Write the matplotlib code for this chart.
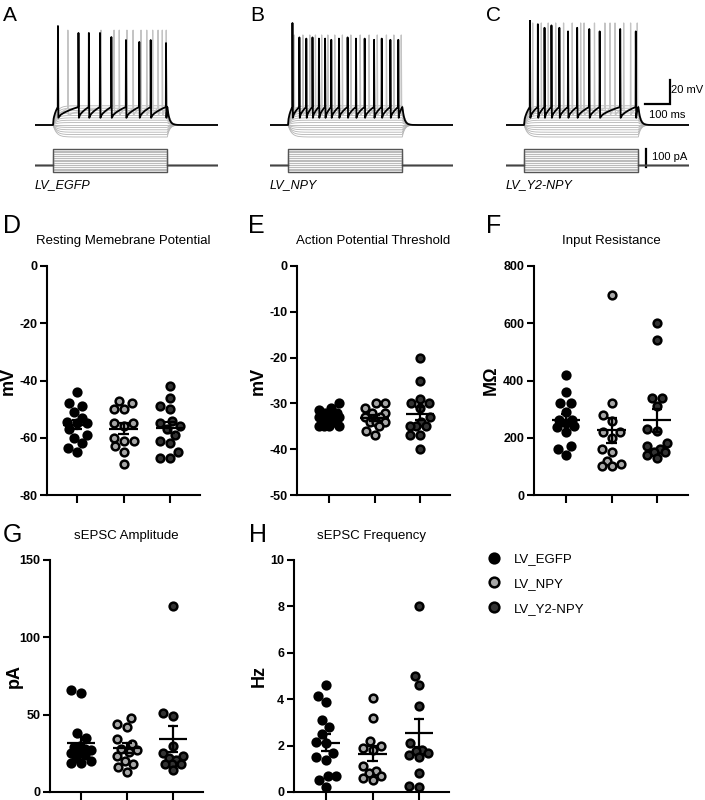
import numpy as np
import matplotlib
matplotlib.use("Agg")
import matplotlib.pyplot as plt
from matplotlib.lines import Line2D

plt.rcParams['font.family'] = ['Liberation Sans', 'DejaVu Sans']
plt.rcParams['axes.unicode_minus'] = False

# ---------------- data ----------------
groups = ['LV_EGFP', 'LV_NPY', 'LV_Y2-NPY']

# top traces: spike times (ms) and peaks (mV)
egfp_black_spikes = [92, 175, 217, 262, 308, 367, 421, 467, 529]
egfp_black_peaks = [17.5, 11.7, 11.7, 11.7, 8.3, 5.8, 4.2, 5.8, 3.3]
egfp_gray_spikes = [132, 266, 319, 340, 371, 396, 428, 451, 475, 497, 514, 530]

npy_black_spikes = [90, 118, 146, 171, 197, 222, 247, 278, 313, 347, 382, 420, 451, 486, 518]
npy_black_peaks = [20, 8, 7, 8, 7, 7, 6, 7, 8, 7, 7, 6, 7, 6, 6]
npy_gray_spikes = [97, 132, 160, 183, 208, 233, 261, 292, 326, 364, 400, 433, 470, 500, 530]

y2_black_spikes = [96, 128, 155, 183, 215, 250, 287, 336, 378, 461, 524]
y2_black_peaks = [22, 19, 16, 18, 16, 13, 16, 15, 13, 15, 13]
y2_gray_spikes = [107, 142, 170, 200, 232, 267, 301, 315, 357, 399, 420, 440, 475, 503, 530]

subthreshold_levels = [-10, -8, -6, -4, -2, 0, 2, 4, 6, 8, 10, 12, 14, 16]   # mV
current_steps = [-40, -30, -20, -10, 0, 10, 20, 30, 40, 50, 60, 70, 80, 90]  # pA

# D Resting membrane potential (mV)
rmp_egfp = [-44, -48, -49, -51, -53, -54.5, -55, -55, -57, -59, -60, -62, -63.5, -65]
rmp_npy = [-47, -48, -50, -50, -55, -55, -56, -60, -61, -61, -63, -65, -69]
rmp_y2 = [-42, -46, -49, -50, -54, -55, -56, -57, -59, -61, -62, -65, -67, -67]

# E Action potential threshold (mV)
apt_egfp = [-30, -31, -31.5, -32, -32, -32.5, -33, -33, -33.5, -34, -34, -35, -35, -35, -35]
apt_npy = [-30, -30, -31, -32, -32, -33, -33, -34, -34, -34, -35, -36, -37]
apt_y2 = [-20, -25, -29, -30, -30, -31, -33, -34, -35, -35, -35, -37, -37, -40]

# F Input resistance (MOhm)
rin_egfp = [420, 360, 320, 320, 290, 262, 262, 250, 240, 238, 220, 170, 160, 140]
rin_npy = [700, 320, 280, 260, 220, 220, 200, 160, 150, 120, 110, 100, 100]
rin_y2 = [600, 540, 340, 340, 310, 230, 225, 180, 170, 160, 150, 150, 140, 130]

# G sEPSC amplitude (pA)
amp_egfp = [66, 64, 38, 35, 30, 29, 28, 27, 26, 25, 24, 22, 20, 19, 19]
amp_npy = [48, 44, 42, 34, 31, 28, 27, 26, 23, 20, 18, 16, 13]
amp_y2 = [120, 51, 49, 30, 25, 23, 22, 21, 18, 18, 18, 14]

# H sEPSC frequency (Hz)
freq_egfp = [4.6, 4.15, 3.9, 3.1, 2.8, 2.5, 2.1, 2.15, 1.7, 1.5, 1.4, 0.7, 0.7, 0.5, 0.2]
freq_npy = [4.05, 3.2, 2.2, 2.0, 1.9, 1.8, 1.1, 0.9, 0.8, 0.7, 0.5, 0.6]
freq_y2 = [8.0, 5.0, 4.6, 3.7, 2.1, 1.8, 1.75, 1.7, 1.6, 1.5, 0.8, 0.25, 0.2]

# ---------------- figure ----------------
W, H = 705, 800
fig = plt.figure(figsize=(W / 100, H / 100), dpi=100)


def px_axes(l, t, r, b):
    return fig.add_axes([l / W, 1 - b / H, (r - l) / W, (b - t) / H])


# ---------- traces ----------
T_END, ON, OFF, BASE = 740, 73, 535, -65.0


def spiking_trace(spikes, peaks, thr, ahp):
    ts, vs = [0, ON], [BASE, BASE]
    t0 = spikes[0]
    tt = np.linspace(ON, t0, 10)
    ts += list(tt)
    vs += list(BASE + (thr - BASE) * np.sqrt((tt - ON) / (t0 - ON)))
    for k, s in enumerate(spikes):
        ts += [s + 0.8, s + 2.5]
        vs += [peaks[k], ahp]
        nxt = spikes[k + 1] if k + 1 < len(spikes) else OFF
        tt = np.linspace(s + 2.5, nxt, 10)
        ts += list(tt)
        vs += list(ahp + (thr - ahp) * ((tt - tt[0]) / (nxt - tt[0])) ** 0.6)
    tt = np.linspace(OFF, T_END, 40)
    ts += list(tt)
    vs += list(BASE + (thr - BASE) * np.exp(-(tt - OFF) / 8))
    return np.array(ts), np.array(vs)


def sub_trace(level):
    t = np.linspace(0, T_END, 600)
    v = np.full_like(t, BASE)
    m = (t >= ON) & (t < OFF)
    v[m] = BASE + level * (1 - np.exp(-(t[m] - ON) / 14))
    reached = level * (1 - np.exp(-(OFF - ON) / 14))
    m2 = t >= OFF
    v[m2] = BASE + reached * np.exp(-(t[m2] - OFF) / 10)
    return t, v


trace_specs = [
    (35, 3, 'A', 'LV_EGFP', egfp_black_spikes, egfp_black_peaks, egfp_gray_spikes, 14),
    (270, 250, 'B', 'LV_NPY', npy_black_spikes, npy_black_peaks, npy_gray_spikes, 10),
    (506, 486, 'C', 'LV_Y2-NPY', y2_black_spikes, y2_black_peaks, y2_gray_spikes, 20),
]
for left, lx, letter, label, bs, bp, gs, gpk in trace_specs:
    axv = px_axes(left, 20, left + 183, 140)
    axv.set_xlim(0, T_END)
    axv.set_ylim(BASE - 15 / 1.2, BASE + 105 / 1.2)
    axv.axis('off')
    for lv in subthreshold_levels:
        t, v = sub_trace(lv)
        axv.plot(t, v, color='#b4b4b4', lw=0.6)
    t, v = spiking_trace(gs, [gpk] * len(gs), -51, -57)
    axv.plot(t, v, color='#c4c4c4', lw=0.9)
    t, v = spiking_trace(bs, bp, -50, -59)
    axv.plot(t, v, color='black', lw=1.3)

    axi = px_axes(left, 140, left + 183, 180)
    axi.set_xlim(0, T_END)
    axi.set_ylim(-15 / 0.18, 25 / 0.18)
    axi.axis('off')
    for k, c in enumerate(current_steps):
        extreme = k in (0, len(current_steps) - 1)
        axi.plot([0, ON, ON, OFF, OFF, T_END], [0, 0, c, c, 0, 0],
                 color='#555555' if extreme else '#bbbbbb',
                 lw=1.0 if extreme else 0.8, zorder=3 if extreme else 2)
    axi.plot([0, ON], [0, 0], color='#444444', lw=1.0, zorder=4)
    axi.plot([OFF, T_END], [0, 0], color='#444444', lw=1.0, zorder=4)

    fig.text(left / W, 1 - 185 / H, label, style='italic', fontsize=9, va='center', ha='left')
    fig.text(lx / W, 1 - 21 / H, letter, fontsize=15, va='baseline', ha='left')

    if letter == 'C':
        axv.plot([564, 664, 664], [-47.5, -47.5, -27.5], color='black', lw=1.6,
                 clip_on=False, solid_joinstyle='miter')
        axv.text(668, -35.5, '20 mV', fontsize=8, va='center', ha='left')
        axv.text(580, -56.5, '100 ms', fontsize=8, va='center', ha='left')
        axi.plot([567, 567], [-10, 90], color='black', lw=1.6, clip_on=False)
        axi.text(590, 45, '100 pA', fontsize=8, va='center', ha='left')

# ---------- scatter panels ----------
face = ['#000000', '#a6a6a6', '#333333']


def swarm(vals, ypx, diam, maxw):
    vals = np.asarray(vals, float)
    order = np.argsort(vals)
    placed = []
    offs = np.zeros(len(vals))
    for i in order:
        y = vals[i] * ypx
        cands = [0.0]
        for (px, py) in placed:
            dy = y - py
            if abs(dy) < diam:
                dx = np.sqrt(diam ** 2 - dy ** 2)
                cands += [px + dx, px - dx]
        cands = sorted(cands, key=lambda c: (abs(c), c))
        best = None
        for c in cands:
            if abs(c) > maxw + 1e-9:
                continue
            if all((c - px) ** 2 + (y - py) ** 2 >= diam ** 2 - 1e-6 for px, py in placed):
                best = c
                break
        if best is None:
            grid = np.linspace(-maxw, maxw, 41)
            scores = [min(np.hypot(g - px, y - py) for px, py in placed) for g in grid]
            best = grid[int(np.argmax(scores))]
        offs[i] = best
        placed.append((best, y))
    return offs


panels = [
    ('D', 'Resting Memebrane Potential', 'mV', (47, 266, 200, 495), (77, 170), (-80, 0), 20,
     [rmp_egfp, rmp_npy, rmp_y2], 17),
    ('E', 'Action Potential Threshold', 'mV', (297, 266, 450, 495), (329, 420), (-50, 0), 10,
     [apt_egfp, apt_npy, apt_y2], 267),
    ('F', 'Input Resistance', 'MΩ', (534, 266, 688, 495), (566, 657), (0, 800), 200,
     [rin_egfp, rin_npy, rin_y2], 500),
    ('G', 'sEPSC Amplitude', 'pA', (50, 560, 203, 792), (81, 173), (0, 150), 50,
     [amp_egfp, amp_npy, amp_y2], 23),
    ('H', 'sEPSC Frequency', 'Hz', (294, 560, 449, 792), (326, 419), (0, 10), 2,
     [freq_egfp, freq_npy, freq_y2], 268),
]

letter_x = {'D': 3, 'E': 248, 'F': 486, 'G': 3, 'H': 249}

for letter, title, ylab, (l, t, r, b), (x0, x2), ylim, ystep, data, lab_right in panels:
    ax = px_axes(l, t, r, b)
    xppu = (x2 - x0) / 2.0
    ax.set_xlim(-(x0 - l) / xppu, 2 + (r - x2) / xppu)
    ax.set_ylim(*ylim)
    yppu = (b - t) / (ylim[1] - ylim[0])
    for i, vals in enumerate(data):
        offs = swarm(vals, yppu, 10.0, 10.0) / xppu
        ax.scatter(i + offs, vals, s=31, facecolor=face[i], edgecolor='black',
                   linewidths=1.8, zorder=3, clip_on=False)
        v = np.asarray(vals, float)
        m = v.mean()
        sem = v.std(ddof=1) / np.sqrt(len(v))
        ax.plot([i - 0.31, i + 0.31], [m, m], color='black', lw=1.6, zorder=4,
                solid_capstyle='butt')
        ax.plot([i, i], [m - sem, m + sem], color='black', lw=1.6, zorder=4)
        for e in (m - sem, m + sem):
            ax.plot([i - 0.11, i + 0.11], [e, e], color='black', lw=1.6, zorder=4,
                    solid_capstyle='butt')
    for s in ('top', 'right'):
        ax.spines[s].set_visible(False)
    for s in ('left', 'bottom'):
        ax.spines[s].set_linewidth(1.5)
    ax.set_yticks(np.arange(ylim[0], ylim[1] + ystep / 2, ystep))
    ax.set_xticks([0, 1, 2])
    ax.set_xticklabels([])
    ax.tick_params(axis='y', length=5, width=1.5, pad=2, labelsize=9)
    ax.tick_params(axis='x', length=6, width=1.5)
    for tl in ax.get_yticklabels():
        tl.set_fontweight('bold')
    ax.set_ylabel(ylab, fontsize=13, fontweight='bold')
    ax.yaxis.set_label_coords((lab_right - l) / (r - l), 0.5)
    ty = 241 if t < 300 else 536
    ax.set_title(title, fontsize=9.5, y=1 + (t - ty) / (b - t), va='center', pad=0)
    fig.text(letter_x[letter] / W, 1 - ((233 if t < 300 else 542)) / H, letter,
             fontsize=18, va='baseline', ha='left')

# legend
handles = [Line2D([], [], ls='none', marker='o', markersize=7, markerfacecolor=face[i],
                  markeredgecolor='black', markeredgewidth=1.8) for i in range(3)]
fig.legend(handles, groups, loc='upper left', bbox_to_anchor=(487 / W, 1 - 553 / H),
           frameon=False, fontsize=9.5, handlelength=1.0, handletextpad=1.0,
           labelspacing=0.95, borderpad=0, borderaxespad=0)

fig.savefig('out.png', dpi=100)
